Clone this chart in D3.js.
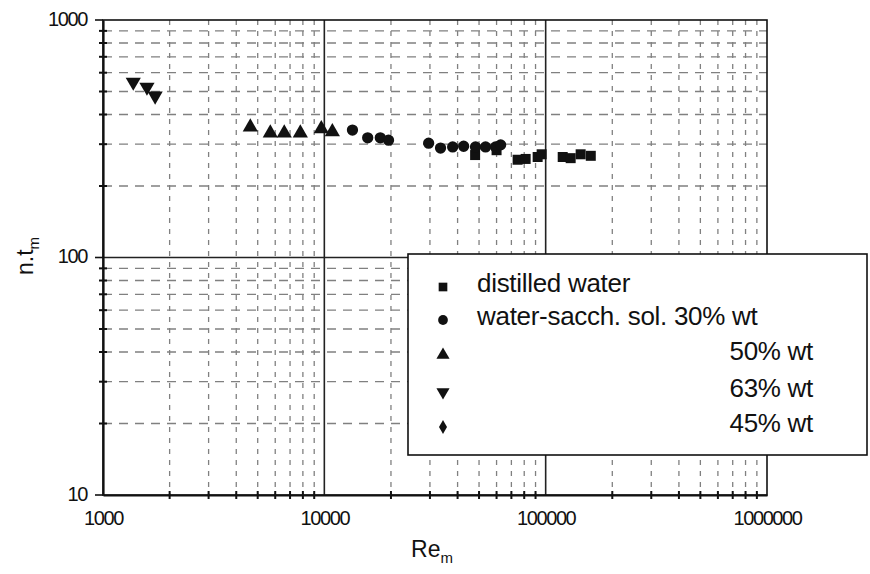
<!DOCTYPE html>
<html>
<head>
<meta charset="utf-8">
<script src="https://cdn.jsdelivr.net/npm/d3@7"></script>
<style>
  html, body { margin: 0; padding: 0; background: #fff; }
  svg { display: block; font-family: "Liberation Sans", Arial, sans-serif; }
</style>
</head>
<body>
<svg id="chart" width="870" height="574"></svg>
<script>
// Re_m vs n.t_m, one array pair per fluid
const distilledRe = [48000, 60000, 74700, 81200, 92000, 95900, 119400, 129700, 143900, 159900];
const distilledNt = [270, 283, 258, 260, 265, 272, 265, 262, 272, 268];

const sacch30Re = [13400, 15700, 17900, 19500, 29600, 33500, 38000, 42600, 48200, 53500, 59400, 62600];
const sacch30Nt = [344, 319, 319, 312, 303, 289, 292, 294, 292, 292, 292, 298];

const sacch50Re = [4630, 5700, 6590, 7790, 9690, 10870];
const sacch50Nt = [354, 334, 334, 334, 348, 338];

const sacch63Re = [1370, 1580, 1720];
const sacch63Nt = [548, 522, 479];

const sacch45Re = [];
const sacch45Nt = [];

const legendLabels = ["distilled water", "water-sacch. sol. 30% wt", "50% wt", "63% wt", "45% wt"];
const xTickValues = [1000, 10000, 100000, 1000000];
const yTickValues = [10, 100, 1000];

const svg = d3.select("#chart");
const plotL = 103, plotR = 767, plotT = 20, plotB = 495;

const x = d3.scaleLog().domain([1000, 1000000]).range([plotL, plotR]);
const y = d3.scaleLog().domain([10, 1000]).range([plotB, plotT]);

// minor (2..9) positions in every decade
const minorX = [];
for (let d = 1000; d < 1000000; d *= 10) for (let k = 2; k <= 9; k++) minorX.push(d * k);
const minorY = [];
for (let d = 10; d < 1000; d *= 10) for (let k = 2; k <= 9; k++) minorY.push(d * k);

const grid = svg.append("g");
grid.selectAll("line.vx").data(minorX).join("line")
  .attr("x1", d => x(d)).attr("x2", d => x(d))
  .attr("y1", plotT).attr("y2", plotB)
  .attr("stroke", "#808080").attr("stroke-width", 1.3)
  .attr("stroke-dasharray", "5,6");
grid.selectAll("line.hy").data(minorY).join("line")
  .attr("y1", d => y(d)).attr("y2", d => y(d))
  .attr("x1", plotL).attr("x2", plotR)
  .attr("stroke", "#808080").attr("stroke-width", 1.3)
  .attr("stroke-dasharray", "9,7");
// solid decade lines inside the frame
grid.selectAll("line.mx").data([10000, 100000]).join("line")
  .attr("x1", d => x(d)).attr("x2", d => x(d))
  .attr("y1", plotT).attr("y2", plotB)
  .attr("stroke", "#222").attr("stroke-width", 1.6);
grid.selectAll("line.my").data([100]).join("line")
  .attr("y1", d => y(d)).attr("y2", d => y(d))
  .attr("x1", plotL).attr("x2", plotR)
  .attr("stroke", "#222").attr("stroke-width", 1.6);

// frame
svg.append("rect").attr("x", plotL).attr("y", plotT)
  .attr("width", plotR - plotL).attr("height", plotB - plotT)
  .attr("fill", "none").attr("stroke", "#111").attr("stroke-width", 1.6);

// axes with small ticks crossing the frame
const xAxis = d3.axisBottom(x).tickValues(xTickValues).tickFormat(d3.format("d")).tickSize(0).tickPadding(16);
const gx = svg.append("g").attr("transform", `translate(0,${plotB})`).call(xAxis);
gx.select(".domain").attr("stroke", "#111").attr("stroke-width", 2.2);
gx.selectAll("text").attr("font-size", 20).attr("fill", "#111").attr("letter-spacing", "-1.4px");

const yAxis = d3.axisLeft(y).tickValues(yTickValues).tickFormat(d3.format("d")).tickSize(0).tickPadding(16);
const gy = svg.append("g").attr("transform", `translate(${plotL},0)`).call(yAxis);
gy.select(".domain").attr("stroke", "#111").attr("stroke-width", 2.2);
gy.selectAll("text").attr("font-size", 20).attr("fill", "#111").attr("letter-spacing", "-1.4px")
  .attr("dy", "0.25em");

svg.append("g").selectAll("line").data(minorX).join("line")
  .attr("x1", d => x(d)).attr("x2", d => x(d))
  .attr("y1", plotB - 4).attr("y2", plotB + 4)
  .attr("stroke", "#111").attr("stroke-width", 2);
svg.append("g").selectAll("line").data(minorY).join("line")
  .attr("y1", d => y(d)).attr("y2", d => y(d))
  .attr("x1", plotL - 4).attr("x2", plotL + 4)
  .attr("stroke", "#111").attr("stroke-width", 2);
svg.append("g").selectAll("line").data(yTickValues).join("line")
  .attr("y1", d => y(d)).attr("y2", d => y(d))
  .attr("x1", plotL - 8).attr("x2", plotL)
  .attr("stroke", "#111").attr("stroke-width", 1.6);

// axis titles
const xt = svg.append("text").attr("x", 432).attr("y", 557)
  .attr("text-anchor", "middle").attr("font-size", 23).attr("fill", "#111");
xt.append("tspan").text("Re");
xt.append("tspan").attr("font-size", 15).attr("dy", 6).text("m");

const yt = svg.append("text").attr("transform", "translate(33,256) rotate(-90)")
  .attr("text-anchor", "middle").attr("font-size", 23).attr("fill", "#111");
yt.append("tspan").text("n.t");
yt.append("tspan").attr("font-size", 15).attr("dy", 6).text("m");

// marker symbols
const symType = {
  square: d3.symbolSquare,
  circle: d3.symbolCircle,
  triUp: d3.symbolTriangle,
  triDown: d3.symbolTriangle,
  diamond: d3.symbolDiamond
};

const series = [
  { re: distilledRe, nt: distilledNt, s: "square", rot: 0 },
  { re: sacch30Re, nt: sacch30Nt, s: "circle", rot: 0 },
  { re: sacch50Re, nt: sacch50Nt, s: "triUp", rot: 0 },
  { re: sacch63Re, nt: sacch63Nt, s: "triDown", rot: 180 },
  { re: sacch45Re, nt: sacch45Nt, s: "diamond", rot: 0 }
];

const pts = svg.append("g");
series.forEach(sr => {
  pts.selectAll(null).data(sr.re.map((r, i) => [r, sr.nt[i]])).join("path")
    .attr("d", d3.symbol().type(symType[sr.s]).size(sr.s === "diamond" ? 55 : 100)())
    .attr("transform", d => `translate(${x(d[0])},${y(d[1])}) rotate(${sr.rot})`)
    .attr("fill", "#111");
});

// legend box
const lg = svg.append("g");
lg.append("rect").attr("x", 408).attr("y", 254).attr("width", 459).attr("height", 201)
  .attr("fill", "#fff").attr("stroke", "#111").attr("stroke-width", 1.6);
const rowsY = [287, 320, 355, 392, 427];
series.forEach((sr, i) => {
  lg.append("path")
    .attr("d", d3.symbol().type(symType[sr.s]).size(sr.s === "diamond" ? 55 : 75)())
    .attr("transform", `translate(443,${rowsY[i]}) rotate(${sr.rot})`)
    .attr("fill", "#111");
  const t = lg.append("text").attr("y", rowsY[i] + 5).attr("font-size", 26).attr("fill", "#111")
    .attr("letter-spacing", "-0.3px").text(legendLabels[i]);
  if (i < 2) t.attr("x", 477);
  else t.attr("x", 813).attr("text-anchor", "end");
});
</script>
</body>
</html>
